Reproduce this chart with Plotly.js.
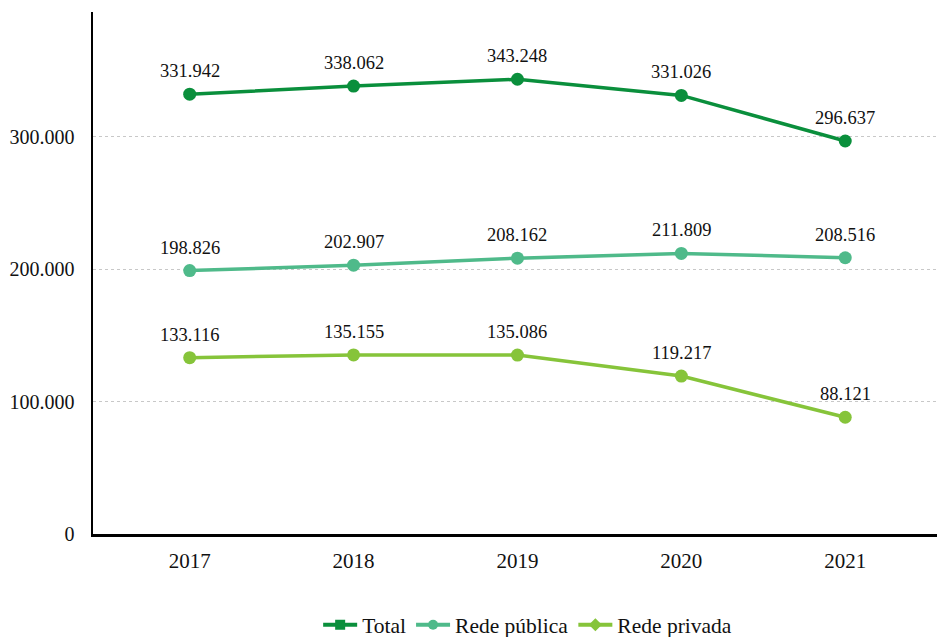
<!DOCTYPE html>
<html><head><meta charset="utf-8">
<script src="https://cdn.plot.ly/plotly-3.0.1.min.js"></script>
<style>html,body{margin:0;padding:0;background:#fff}#chart{width:937px;height:637px}</style>
</head><body><div id="chart"></div>
<script>
const years = [2017, 2018, 2019, 2020, 2021];
const total = [331942, 338062, 343248, 331026, 296637];
const publica = [198826, 202907, 208162, 211809, 208516];
const privada = [133116, 135155, 135086, 119217, 88121];
const seriesNames = ['Total', 'Rede pública', 'Rede privada'];
const colors = ['#0a8f3c', '#4fba8a', '#86c43a'];
const legendSymbols = ['square', 'circle', 'diamond'];
const yTickVals = [0, 100000, 200000, 300000];
const yTickText = ['0', '100.000', '200.000', '300.000'];

const FONT = '"Times New Roman", "Liberation Serif", "DejaVu Serif", serif';
function fmt(v){ return v.toString().replace(/\B(?=(\d{3})+(?!\d))/g, '.'); }

const allSeries = [total, publica, privada];
const traces = [];
const annotations = [];
allSeries.forEach((s, i) => {
  traces.push({x: years, y: s, type: 'scatter', mode: 'lines+markers', showlegend: false,
    line: {color: colors[i], width: 3.5}, marker: {color: colors[i], size: 13, symbol: 'circle'},
    hoverinfo: 'skip'});
  s.forEach((v, j) => annotations.push({x: years[j], y: v, xref: 'x', yref: 'y', text: fmt(v),
    showarrow: false, yshift: 23, font: {family: FONT, size: 18.5, color: '#111'}}));
});
seriesNames.forEach((n, i) => {
  traces.push({x: [null], y: [null], type: 'scatter', mode: 'lines+markers', name: n,
    line: {color: colors[i], width: 4}, marker: {color: colors[i], size: 10, symbol: legendSymbols[i]}});
});

const layout = {
  width: 937, height: 637,
  margin: {l: 93, r: 0, t: 12, b: 103, autoexpand: false},
  paper_bgcolor: '#fff', plot_bgcolor: '#fff',
  font: {family: FONT, size: 21, color: '#111'},
  xaxis: {range: [2016.41, 2021.56], tickvals: years, ticktext: years.map(String),
    showgrid: false, zeroline: false, showline: true, linecolor: '#000', linewidth: 2.5,
    ticks: '', ticklabelstandoff: 6, tickfont: {family: FONT, size: 21, color: '#111'}},
  yaxis: {range: [0, 394000], tickvals: yTickVals, ticktext: yTickText,
    showgrid: true, gridcolor: '#c8c8c8', griddash: 'dot', gridwidth: 1,
    zeroline: false, showline: true, linecolor: '#000', linewidth: 2.5,
    ticks: '', ticklabelstandoff: 12, tickfont: {family: FONT, size: 20, color: '#111'}},
  legend: {orientation: 'h', x: 0.515, xanchor: 'center', y: -0.174, yanchor: 'middle',
    font: {family: FONT, size: 21.5, color: '#111'}, itemwidth: 34, tracegroupgap: 0},
  annotations: annotations,
  showlegend: true
};
Plotly.newPlot('chart', traces, layout, {displayModeBar: false, staticPlot: true});
</script></body></html>
